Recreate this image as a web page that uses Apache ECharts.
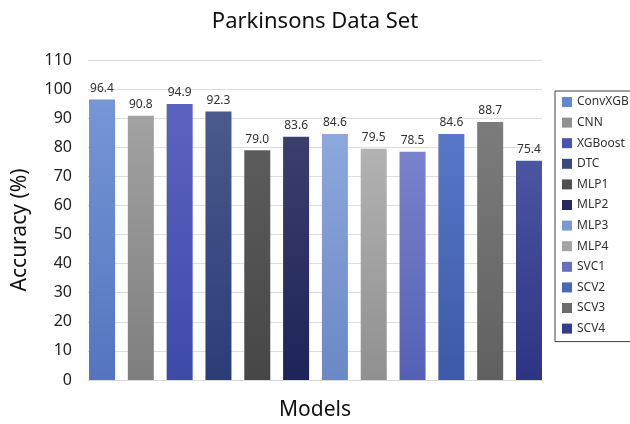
<!DOCTYPE html>
<html>
<head>
<meta charset="utf-8">
<script src="https://cdn.jsdelivr.net/npm/echarts@6/dist/echarts.min.js"></script>
<style>
  html, body { margin: 0; padding: 0; background: #ffffff; }
  #chart { width: 630px; height: 424px; }
</style>
</head>
<body>
<div id="chart"></div>
<script>
// Model names and their accuracy on the Parkinsons data set
const models = ['ConvXGB', 'CNN', 'XGBoost', 'DTC', 'MLP1', 'MLP2', 'MLP3', 'MLP4', 'SVC1', 'SCV2', 'SCV3', 'SCV4'];
const accuracy = [96.4, 90.8, 94.9, 92.3, 79.0, 83.6, 84.6, 79.5, 78.5, 84.6, 88.7, 75.4];
const yTicks = [0, 10, 20, 30, 40, 50, 60, 70, 80, 90, 100, 110];

// Per-model bar shading (top -> bottom of the gradient) and legend swatch
const topColors = ['#7696d6', '#a2a2a2', '#5c62c0', '#4a5a8c', '#5c5c5c', '#3a3f6c', '#8ca8de', '#b2b2b2', '#7882cc', '#5877c8', '#7c7c7c', '#4c55a0'];
const bottomColors = ['#5474c0', '#7e7e7e', '#3e4aa8', '#2c3c78', '#464646', '#1e2458', '#6a88c4', '#909090', '#5560b4', '#3c58a8', '#606060', '#2c3484'];
const swatchColors = ['#6688d0', '#909090', '#4a52b4', '#3a4a80', '#505050', '#262a5e', '#7c98d2', '#a4a4a4', '#6670c0', '#4a66b8', '#6c6c6c', '#343c8e'];

const FONT = 'Noto Sans';
const chart = echarts.init(document.getElementById('chart'));

// one series per model so each gets its own legend entry; bars overlap in a shared slot
const series = models.map((name, i) => ({
  name: name,
  type: 'bar',
  xAxisIndex: 1,
  yAxisIndex: 1,
  barWidth: 26,
  barGap: '-100%',
  data: models.map((_, j) => (j === i ? accuracy[i] : null)),
  itemStyle: {
    color: new echarts.graphic.LinearGradient(0, 0, 0, 1, [
      { offset: 0, color: topColors[i] },
      { offset: 1, color: bottomColors[i] }
    ])
  },
  label: {
    show: true,
    position: 'top',
    distance: 5,
    fontFamily: FONT,
    fontSize: 12,
    color: '#333333',
    formatter: p => p.value.toFixed(1)
  }
}));

chart.setOption({
  animation: false,
  backgroundColor: '#ffffff',
  title: {
    text: 'Parkinsons Data Set',
    left: 'center',
    top: 6,
    textStyle: { fontFamily: FONT, fontSize: 22, fontWeight: 'normal', color: '#111111' }
  },
  legend: {
    orient: 'vertical',
    left: 555,
    top: 91,
    padding: [5, 40, 7, 7],
    itemGap: 8.6,
    itemWidth: 10,
    itemHeight: 10,
    icon: 'rect',
    borderColor: '#404040',
    borderWidth: 1,
    textStyle: { fontFamily: FONT, fontSize: 12, color: '#333333' },
    data: models.map((name, i) => ({ name: name, itemStyle: { color: swatchColors[i] } }))
  },
  grid: [
    // frame for the value axis, gridlines and baseline
    { left: 88, right: 88, top: 60, bottom: 44, outerBoundsMode: 'none' },
    // slot grid for the bars (bars sit flush with the frame edges)
    { left: 82.6, right: 81.6, top: 60, bottom: 44, outerBoundsMode: 'none' }
  ],
  xAxis: [
    {
      gridIndex: 0,
      type: 'category',
      data: models,
      axisLine: { show: true, lineStyle: { color: '#d9d9d9', width: 1 } },
      axisTick: { show: false },
      axisLabel: { show: false },
      name: 'Models',
      nameLocation: 'middle',
      nameGap: 20,
      nameTextStyle: { fontFamily: FONT, fontSize: 21, color: '#111111', verticalAlign: 'top' }
    },
    {
      gridIndex: 1,
      type: 'category',
      data: models,
      show: false
    }
  ],
  yAxis: [
    {
      gridIndex: 0,
      type: 'value',
      min: yTicks[0],
      max: yTicks[yTicks.length - 1],
      interval: yTicks[1] - yTicks[0],
      axisLine: { show: false },
      axisTick: { show: false },
      splitLine: { lineStyle: { color: '#dedede', width: 1 } },
      axisLabel: { margin: 16, fontFamily: FONT, fontSize: 16, color: '#222222' }
    },
    {
      gridIndex: 1,
      type: 'value',
      min: yTicks[0],
      max: yTicks[yTicks.length - 1],
      show: false,
      splitLine: { show: false }
    }
  ],
  graphic: [
    {
      type: 'text',
      x: 20,
      y: 230,
      rotation: Math.PI / 2,
      style: {
        text: 'Accuracy (%)',
        fontFamily: FONT,
        fontSize: 21,
        fill: '#111111',
        align: 'center',
        verticalAlign: 'middle'
      }
    }
  ],
  series: series
});
</script>
</body>
</html>
